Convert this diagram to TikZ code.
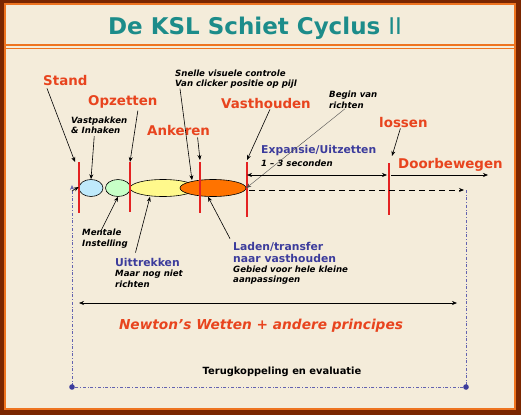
\documentclass[tikz,border=0pt]{standalone}
\usepackage{fontspec}
\setmainfont{DejaVu Sans}
\usetikzlibrary{shapes.geometric,arrows.meta}

\definecolor{cream}{HTML}{F4ECDA}
\definecolor{frameorange}{HTML}{EE7420}
\definecolor{framedark}{HTML}{7A2600}
\definecolor{titleteal}{HTML}{1C8C8A}
\definecolor{phasered}{HTML}{E8441E}
\definecolor{stageblue}{HTML}{3C3C9C}
\definecolor{markred}{HTML}{E42222}

\tikzset{
  phase/.style={text=phasered, font=\bfseries\fontsize{13.4}{15}\selectfont, inner sep=0, anchor=west},
  note/.style={font=\bfseries\itshape\fontsize{8.6}{10.5}\selectfont, inner sep=0, anchor=west, align=left},
  stage/.style={text=stageblue, font=\bfseries\fontsize{10.8}{12}\selectfont, inner sep=0, anchor=west, align=left},
  marker/.style={markred, line width=2.5pt},
  pointer/.style={-{Stealth[length=5pt,width=4pt]}, line width=0.6pt},
  blob/.style={ellipse, draw, line width=0.6pt, inner sep=0, minimum height=17pt},
  loop/.style={stageblue!80, dash dot, line width=0.6pt},
}

\begin{document}
\begin{tikzpicture}[x=1pt,y=-1pt]
  \useasboundingbox (0,0) rectangle (521,415);

  % frame and title
  \fill[framedark] (0,0) rectangle (521,415);
  \draw[frameorange, line width=2.5pt, fill=cream] (5,4) rectangle (515,409);
  \draw[frameorange, line width=2pt] (5,45) -- (515,45);
  \draw[frameorange, line width=0.8pt] (5,48.5) -- (515,48.5);
  \node[text=titleteal, font=\bfseries\fontsize{23}{26}\selectfont] (title) at (255,28)
    {De KSL Schiet Cyclus {\mdseries II}};

  % phases on the time line
  \node[blob, fill=cyan!25, minimum width=24pt] (pakken) at (91,188) {};
  \node[blob, fill=green!22, minimum width=25pt] (mentaal) at (118,188) {};
  \node[blob, fill=yellow!45, minimum width=66pt] (trekken) at (163,188) {};
  \node[blob, fill=orange!90!red, minimum width=66pt] (laden) at (213,188) {};

  \coordinate (standtop) at (79,162);
  \coordinate (opzettop) at (130,162);
  \coordinate (ankertop) at (200,162);
  \coordinate (houdtop) at (247,162);
  \coordinate (lossentop) at (389,163);
  \draw[marker] (standtop) -- (79,213);
  \draw[marker] (opzettop) -- (130,212);
  \draw[marker] (ankertop) -- (200,213);
  \draw[marker] (houdtop) -- (247,217);
  \draw[marker] (lossentop) -- (389,215);

  % labels
  \node[phase] (stand) at (43,81) {Stand};
  \node[phase] (opzetten) at (88,102) {Opzetten};
  \node[phase] (ankeren) at (147,131) {Ankeren};
  \node[phase] (vasthouden) at (221,104) {Vasthouden};
  \node[phase] (lossen) at (379,123) {lossen};
  \node[phase] (door) at (398,165) {Doorbewegen};

  \node[note] (vastpakken) at (71,125.5) {Vastpakken\\\& Inhaken};
  \node[note] (snelle) at (175,79) {Snelle visuele controle\\Van clicker positie op pijl};
  \node[note] (begin) at (329,100) {Begin van\\richten};
  \node[note] (instelling) at (82,238.5) {Mentale\\Instelling};
  \node[note] (sec) at (261,163) {1 -- 3 seconden};
  \node[note] (nietrichten) at (115,279) {Maar nog niet\\richten};
  \node[note] (gebied) at (233,275) {Gebied voor hele kleine\\aanpassingen};

  \node[stage] (expansie) at (261,151) {Expansie/Uitzetten};
  \node[stage] (uittrekken) at (115,262) {Uittrekken};
  \node[stage] (transfer) at (233,252) {Laden/transfer\\naar vasthouden};

  \node[text=phasered, font=\bfseries\itshape\fontsize{13.7}{15}\selectfont] (newton) at (261,326)
    {Newton's Wetten + andere principes};
  \node[font=\bfseries\fontsize{9.9}{11}\selectfont] (terug) at (282,372) {Terugkoppeling en evaluatie};

  % pointers
  \draw[pointer] (stand.south west) ++(4,2) -- ([xshift=-4pt]standtop);
  \draw[pointer] (opzetten.south) ++(15,2) -- (opzettop);
  \draw[pointer] (vastpakken.south) ++(-5,2) -- (pakken.north);
  \draw[pointer] (ankeren.south) ++(19,1) -- ([yshift=2pt]ankertop);
  \draw[pointer] (snelle.south west) ++(5,0) -- ([xshift=-21pt,yshift=-1pt]laden.north);
  \draw[pointer] (vasthouden.south) ++(4,0) -- ([yshift=2pt]houdtop);
  \draw[pointer] (lossen.south) ++(-3,0) -- ([xshift=3pt,yshift=7pt]lossentop);
  \draw[pointer, line width=0.4pt, black!70] (begin.south west) ++(16,0) -- (laden.east);
  \draw[pointer] (instelling.north) ++(-4,2) -- (mentaal.south);
  \draw[pointer] (uittrekken.north) ++(-12,-5) -- ([xshift=-13pt]trekken.south);
  \draw[pointer] (transfer.north west) ++(-3,-3) -- ([xshift=-5pt]laden.south);

  % time arrows
  \draw[{Stealth[length=5pt,width=4pt]}-{Stealth[length=5pt,width=4pt]}, line width=0.6pt]
    (247,175) -- (387,175);
  \draw[pointer] (391,175) -- (488,175);
  \draw[pointer, line width=1pt, dash pattern=on 6pt off 4pt] (249,190) -- (464,190);
  \draw[{Stealth[length=5pt,width=4pt]}-{Stealth[length=5pt,width=4pt]}, line width=0.6pt]
    (79,303) -- (457,303);

  % feedback loop
  \coordinate (loopin) at (466,190);
  \coordinate (loopright) at (466,387);
  \coordinate (loopleft) at (72,387);
  \coordinate (loopup) at (72,185);
  \draw[loop, -{Stealth[length=5pt,width=4pt]}] (loopin) -- (loopright) -- (loopleft) -- (loopup);
  \fill[stageblue] (loopright) circle (2.8);
  \fill[stageblue] (loopleft) circle (2.8);
  \draw[pointer] (72,191) -- ([yshift=1pt]pakken.west);

\end{tikzpicture}
\end{document}
